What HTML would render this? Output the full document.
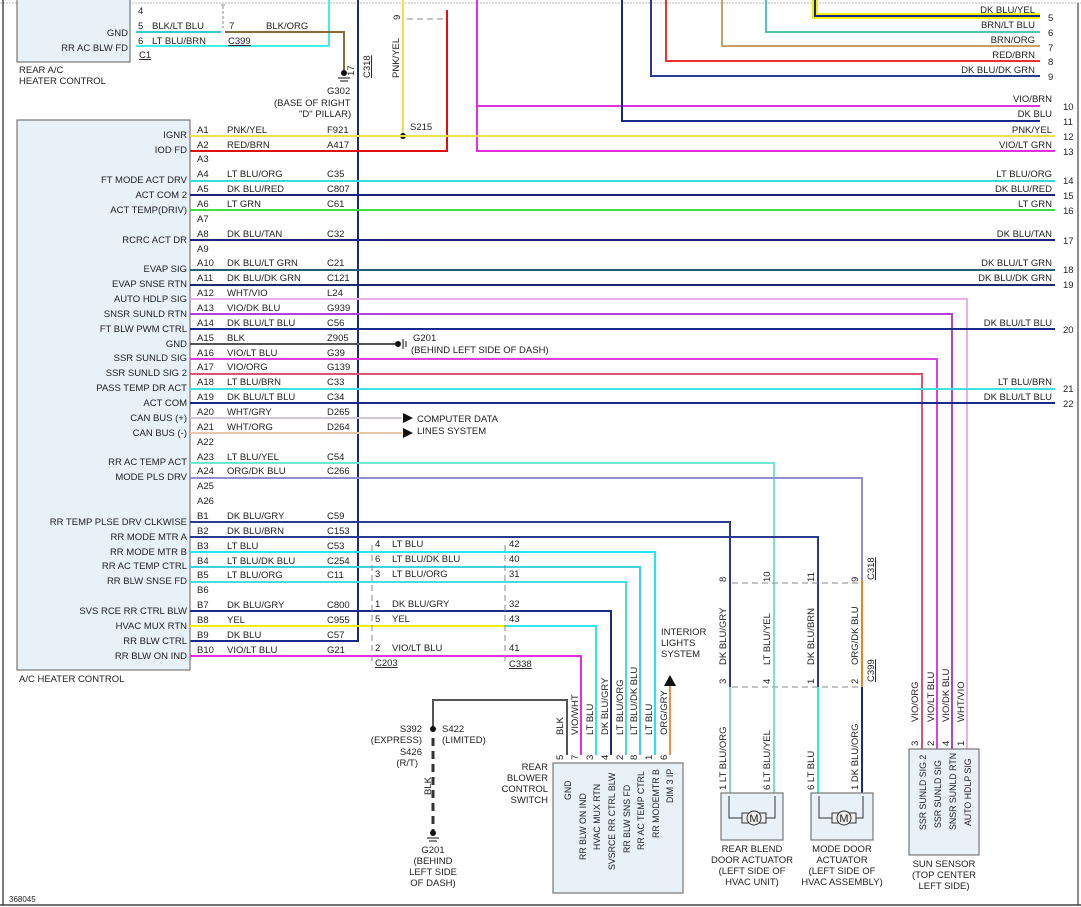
<!DOCTYPE html>
<html><head><meta charset="utf-8"><style>
html,body{margin:0;padding:0;background:#fff}
svg{display:block}
text{font-family:"Liberation Sans",Arial,sans-serif;font-size:9.5px;fill:#222}
.e{text-anchor:end}
.m{text-anchor:middle}
.box{fill:#e8f0f8;stroke:#777;stroke-width:1.2}
.w{fill:none;stroke-width:2}
.s{font-size:8.8px}
</style></head><body>
<svg width="1081" height="907" viewBox="0 0 1081 907" xmlns="http://www.w3.org/2000/svg">
<!-- frame -->
<line x1="0" y1="3" x2="1081" y2="3" stroke="#bbb" stroke-dasharray="2,1"/>
<line x1="3" y1="0" x2="3" y2="905" stroke="#222" stroke-width="1.2"/>
<line x1="0" y1="905" x2="1081" y2="905" stroke="#222" stroke-width="1.2"/>
<line x1="1078" y1="3" x2="1078" y2="905" stroke="#222" stroke-width="1"/>

<!-- rear A/C heater control -->
<rect class="box" x="17" y="-2" width="113" height="64"/>
<text class="e" x="128" y="36">GND</text>
<text class="e" x="128" y="51">RR AC BLW FD</text>
<text x="138" y="14">4</text><text x="138" y="29">5</text><text x="138" y="44">6</text>
<text x="152" y="29">BLK/LT BLU</text><text x="152" y="44">LT BLU/BRN</text>
<text x="139" y="58" text-decoration="underline">C1</text>
<text x="19" y="73">REAR A/C</text><text x="19" y="84">HEATER CONTROL</text>
<path class="w" d="M136 32 H221" stroke="#3cc"/>
<path class="w" d="M136 46 H329 V0" stroke="#4ee"/>
<text x="229" y="29">7</text><text x="266" y="29">BLK/ORG</text>
<text x="228" y="44" text-decoration="underline">C399</text>
<path class="w" d="M225 32 H344 V72" stroke="#8a6a3a"/>
<line x1="221" y1="5" x2="225" y2="5" stroke="#888"/>
<line x1="223" y1="6" x2="223" y2="28" stroke="#888" stroke-dasharray="3,2"/>
<circle cx="344" cy="73" r="3" fill="#111"/>
<line x1="338" y1="78" x2="350" y2="78" stroke="#111"/><line x1="340" y1="81" x2="348" y2="81" stroke="#111"/>
<text x="327" y="94">G302</text>
<text x="274" y="106">(BASE OF RIGHT</text>
<text x="299" y="117">"D" PILLAR)</text>
<!-- C318 vertical -->
<path class="w" d="M358 0 V641 H190" stroke="#1a2a8a"/>
<text x="0" y="0" transform="translate(354,76) rotate(-90)">17</text>
<text x="0" y="0" transform="translate(370,78) rotate(-90)" text-decoration="underline">C318</text>
<!-- PNK/YEL vertical -->
<path class="w" d="M403 0 V136" stroke="#f0e050"/>
<text x="0" y="0" transform="translate(399,78) rotate(-90)">PNK/YEL</text>
<text x="0" y="0" transform="translate(400,20) rotate(-90)">9</text>
<line x1="407" y1="19" x2="445" y2="19" stroke="#888" stroke-dasharray="6,4"/>
<path class="w" d="M447 10 V151 H190" stroke="#e01010"/>
<circle cx="403" cy="136" r="3" fill="#111"/>
<text x="410" y="130">S215</text>
<!-- top right wires -->
<path class="w" d="M477 0 V151 H1055" stroke="#e030e0"/>
<path d="M815 0 V16 H1040" fill="none" stroke="#f5f000" stroke-width="6"/>
<path class="w" d="M815 0 V16 H1040" stroke="#1a2a8a"/>
<path class="w" d="M766 0 V32 H1040" stroke="#4cc8b0"/>
<path class="w" d="M722 0 V46 H1040" stroke="#c8a060"/>
<path class="w" d="M666 0 V61 H1040" stroke="#f03030"/>
<path class="w" d="M651 0 V76 H1040" stroke="#2a3a90"/>
<path class="w" d="M478 106 H1040" stroke="#e030e0"/>
<path class="w" d="M622 0 V121 H1040" stroke="#1a2a8a"/>
<text class="e" x="1035" y="13">DK BLU/YEL</text><text x="1048" y="21">5</text>
<text class="e" x="1035" y="28">BRN/LT BLU</text><text x="1048" y="36">6</text>
<text class="e" x="1035" y="43">BRN/ORG</text><text x="1048" y="51">7</text>
<text class="e" x="1035" y="58">RED/BRN</text><text x="1048" y="65">8</text>
<text class="e" x="1035" y="73">DK BLU/DK GRN</text><text x="1048" y="80">9</text>
<text class="e" x="1052" y="102">VIO/BRN</text><text x="1063" y="110">10</text>
<text class="e" x="1052" y="117">DK BLU</text><text x="1063" y="125">11</text>

<!-- main module -->
<rect class="box" x="17" y="120" width="173" height="550"/>
<text x="19" y="682">A/C HEATER CONTROL</text>
<g>
<text class="e" x="187" y="138">IGNR</text>
<text class="e" x="187" y="153">IOD FD</text>
<text class="e" x="187" y="183">FT MODE ACT DRV</text>
<text class="e" x="187" y="198">ACT COM 2</text>
<text class="e" x="187" y="213">ACT TEMP(DRIV)</text>
<text class="e" x="187" y="243">RCRC ACT DR</text>
<text class="e" x="187" y="272">EVAP SIG</text>
<text class="e" x="187" y="287">EVAP SNSE RTN</text>
<text class="e" x="187" y="302">AUTO HDLP SIG</text>
<text class="e" x="187" y="317">SNSR SUNLD RTN</text>
<text class="e" x="187" y="332">FT BLW PWM CTRL</text>
<text class="e" x="187" y="347">GND</text>
<text class="e" x="187" y="361">SSR SUNLD SIG</text>
<text class="e" x="187" y="376">SSR SUNLD SIG 2</text>
<text class="e" x="187" y="391">PASS TEMP DR ACT</text>
<text class="e" x="187" y="406">ACT COM</text>
<text class="e" x="187" y="421">CAN BUS (+)</text>
<text class="e" x="187" y="436">CAN BUS (-)</text>
<text class="e" x="187" y="465">RR AC TEMP ACT</text>
<text class="e" x="187" y="480">MODE PLS DRV</text>
<text class="e" x="187" y="525">RR TEMP PLSE DRV CLKWISE</text>
<text class="e" x="187" y="540">RR MODE MTR A</text>
<text class="e" x="187" y="555">RR MODE MTR B</text>
<text class="e" x="187" y="569">RR AC TEMP CTRL</text>
<text class="e" x="187" y="584">RR BLW SNSE FD</text>
<text class="e" x="187" y="614">SVS RCE RR CTRL BLW</text>
<text class="e" x="187" y="629">HVAC MUX RTN</text>
<text class="e" x="187" y="644">RR BLW CTRL</text>
<text class="e" x="187" y="659">RR BLW ON IND</text>
</g>
<g>
<text x="197" y="133">A1</text><text x="197" y="148">A2</text><text x="197" y="162">A3</text><text x="197" y="177">A4</text><text x="197" y="192">A5</text><text x="197" y="207">A6</text><text x="197" y="222">A7</text><text x="197" y="237">A8</text><text x="197" y="252">A9</text><text x="197" y="266">A10</text><text x="197" y="281">A11</text><text x="197" y="296">A12</text><text x="197" y="311">A13</text><text x="197" y="326">A14</text><text x="197" y="341">A15</text><text x="197" y="356">A16</text><text x="197" y="370">A17</text><text x="197" y="385">A18</text><text x="197" y="400">A19</text><text x="197" y="415">A20</text><text x="197" y="430">A21</text><text x="197" y="445">A22</text><text x="197" y="460">A23</text><text x="197" y="474">A24</text><text x="197" y="489">A25</text><text x="197" y="504">A26</text><text x="197" y="519">B1</text><text x="197" y="534">B2</text><text x="197" y="549">B3</text><text x="197" y="564">B4</text><text x="197" y="578">B5</text><text x="197" y="593">B6</text><text x="197" y="608">B7</text><text x="197" y="623">B8</text><text x="197" y="638">B9</text><text x="197" y="653">B10</text>
</g>
<g>
<text x="227" y="133">PNK/YEL</text><text x="327" y="133">F921</text>
<text x="227" y="148">RED/BRN</text><text x="327" y="148">A417</text>
<text x="227" y="177">LT BLU/ORG</text><text x="327" y="177">C35</text>
<text x="227" y="192">DK BLU/RED</text><text x="327" y="192">C807</text>
<text x="227" y="207">LT GRN</text><text x="327" y="207">C61</text>
<text x="227" y="237">DK BLU/TAN</text><text x="327" y="237">C32</text>
<text x="227" y="266">DK BLU/LT GRN</text><text x="327" y="266">C21</text>
<text x="227" y="281">DK BLU/DK GRN</text><text x="327" y="281">C121</text>
<text x="227" y="296">WHT/VIO</text><text x="327" y="296">L24</text>
<text x="227" y="311">VIO/DK BLU</text><text x="327" y="311">G939</text>
<text x="227" y="326">DK BLU/LT BLU</text><text x="327" y="326">C56</text>
<text x="227" y="341">BLK</text><text x="327" y="341">Z905</text>
<text x="227" y="356">VIO/LT BLU</text><text x="327" y="356">G39</text>
<text x="227" y="370">VIO/ORG</text><text x="327" y="370">G139</text>
<text x="227" y="385">LT BLU/BRN</text><text x="327" y="385">C33</text>
<text x="227" y="400">DK BLU/LT BLU</text><text x="327" y="400">C34</text>
<text x="227" y="415">WHT/GRY</text><text x="327" y="415">D265</text>
<text x="227" y="430">WHT/ORG</text><text x="327" y="430">D264</text>
<text x="227" y="460">LT BLU/YEL</text><text x="327" y="460">C54</text>
<text x="227" y="474">ORG/DK BLU</text><text x="327" y="474">C266</text>
<text x="227" y="519">DK BLU/GRY</text><text x="327" y="519">C59</text>
<text x="227" y="534">DK BLU/BRN</text><text x="327" y="534">C153</text>
<text x="227" y="549">LT BLU</text><text x="327" y="549">C53</text>
<text x="227" y="564">LT BLU/DK BLU</text><text x="327" y="564">C254</text>
<text x="227" y="578">LT BLU/ORG</text><text x="327" y="578">C11</text>
<text x="227" y="608">DK BLU/GRY</text><text x="327" y="608">C800</text>
<text x="227" y="623">YEL</text><text x="327" y="623">C955</text>
<text x="227" y="638">DK BLU</text><text x="327" y="638">C57</text>
<text x="227" y="653">VIO/LT BLU</text><text x="327" y="653">G21</text>
</g>
<!-- main wires -->
<path class="w" d="M190 136 H1055" stroke="#f0e050"/>
<path class="w" d="M190 181 H1055" stroke="#30dcdc"/>
<path class="w" d="M190 195 H1055" stroke="#1a237e"/>
<path class="w" d="M190 210 H1055" stroke="#40e040"/>
<path class="w" d="M190 240 H1055" stroke="#1a237e"/>
<path class="w" d="M190 270 H1055" stroke="#206070"/>
<path class="w" d="M190 285 H1055" stroke="#1a2a70"/>
<path class="w" d="M190 299 H967 V749" stroke="#e8b0e8"/>
<path class="w" d="M190 314 H952 V749" stroke="#b040e0"/>
<path class="w" d="M190 329 H1055" stroke="#1a2a8a"/>
<path class="w" d="M190 344 H396" stroke="#555"/>
<path class="w" d="M190 359 H937 V749" stroke="#e040e0"/>
<path class="w" d="M190 374 H922 V749" stroke="#e05070"/>
<path class="w" d="M190 389 H1055" stroke="#40e0e0"/>
<path class="w" d="M190 403 H1055" stroke="#1a2a8a"/>
<path class="w" d="M190 418 H402" stroke="#d0c8d8"/>
<path class="w" d="M190 433 H402" stroke="#e8c8a8"/>
<path class="w" d="M190 463 H774 V783" stroke="#70e8d0"/>
<path class="w" d="M190 478 H862 V687" stroke="#9090d0"/>
<path class="w" d="M862 580 V687" stroke="#f08020"/>
<path class="w" d="M190 522 H730 V687" stroke="#2a3a90"/>
<path class="w" d="M190 537 H818 V687" stroke="#2a3a90"/>
<path class="w" d="M190 552 H655 V755" stroke="#20e8f0"/>
<path class="w" d="M190 567 H640 V755" stroke="#40d0e0"/>
<path class="w" d="M190 582 H626 V755" stroke="#40e0e0"/>
<path class="w" d="M190 611 H611 V755" stroke="#1a2a8a"/>
<path class="w" d="M190 626 H505" stroke="#f0f000"/>
<path class="w" d="M505 626 H596 V755" stroke="#30e8f0"/>
<path class="w" d="M190 656 H581 V755" stroke="#e030e0"/>
<!-- right labels -->
<text class="e" x="1052" y="133">PNK/YEL</text><text x="1063" y="140">12</text>
<text class="e" x="1052" y="148">VIO/LT GRN</text><text x="1063" y="155">13</text>
<text class="e" x="1052" y="177">LT BLU/ORG</text><text x="1063" y="184">14</text>
<text class="e" x="1052" y="192">DK BLU/RED</text><text x="1063" y="199">15</text>
<text class="e" x="1052" y="207">LT GRN</text><text x="1063" y="214">16</text>
<text class="e" x="1052" y="237">DK BLU/TAN</text><text x="1063" y="244">17</text>
<text class="e" x="1052" y="266">DK BLU/LT GRN</text><text x="1063" y="273">18</text>
<text class="e" x="1052" y="281">DK BLU/DK GRN</text><text x="1063" y="288">19</text>
<text class="e" x="1052" y="326">DK BLU/LT BLU</text><text x="1063" y="333">20</text>
<text class="e" x="1052" y="385">LT BLU/BRN</text><text x="1063" y="392">21</text>
<text class="e" x="1052" y="400">DK BLU/LT BLU</text><text x="1063" y="407">22</text>
<!-- G201 & data lines -->
<circle cx="398" cy="344" r="3" fill="#111"/>
<line x1="403" y1="339" x2="403" y2="349" stroke="#111"/><line x1="406" y1="341" x2="406" y2="347" stroke="#111"/>
<text x="413" y="341">G201</text>
<text x="411" y="353">(BEHIND LEFT SIDE OF DASH)</text>
<path d="M403 413 L413 418 L403 423 Z" fill="#111"/>
<path d="M403 428 L413 433 L403 438 Z" fill="#111"/>
<text x="417" y="422">COMPUTER DATA</text>
<text x="417" y="434">LINES SYSTEM</text>
<!-- C203 / C338 -->
<g>
<text x="375" y="547">4</text><text x="392" y="547">LT BLU</text><text x="509" y="547">42</text>
<text x="375" y="562">6</text><text x="392" y="562">LT BLU/DK BLU</text><text x="509" y="562">40</text>
<text x="375" y="577">3</text><text x="392" y="577">LT BLU/ORG</text><text x="509" y="577">31</text>
<text x="375" y="607">1</text><text x="392" y="607">DK BLU/GRY</text><text x="509" y="607">32</text>
<text x="375" y="622">5</text><text x="392" y="622">YEL</text><text x="509" y="622">43</text>
<text x="375" y="651">2</text><text x="392" y="651">VIO/LT BLU</text><text x="509" y="651">41</text>
<text x="375" y="666" text-decoration="underline">C203</text>
<text x="509" y="667" text-decoration="underline">C338</text>
</g>
<line x1="372" y1="545" x2="372" y2="664" stroke="#888" stroke-dasharray="6,4"/>
<line x1="505" y1="545" x2="505" y2="664" stroke="#888" stroke-dasharray="6,4"/>
<!-- interior lights -->
<path class="w" d="M670 755 V685" stroke="#f09040"/>
<path d="M664 686 L670 675 L676 686 Z" fill="#111"/>
<text x="661" y="635">INTERIOR</text><text x="661" y="646">LIGHTS</text><text x="661" y="657">SYSTEM</text>
<!-- blower switch -->
<path class="w" d="M567 755 V700 H433 V730" stroke="#555"/>
<line x1="433" y1="738" x2="433" y2="832" stroke="#333" stroke-width="3" stroke-dasharray="8,5"/>
<circle cx="433" cy="729" r="3" fill="#111"/>
<text x="442" y="732">S422</text><text x="442" y="743">(LIMITED)</text>
<text class="e" x="422" y="732">S392</text><text class="e" x="422" y="743">(EXPRESS)</text>
<text class="e" x="422" y="755">S426</text><text class="e" x="418" y="766">(R/T)</text>
<text x="0" y="0" transform="translate(431,795) rotate(-90)">BLK</text>
<circle cx="433" cy="833" r="3" fill="#111"/>
<line x1="427" y1="838" x2="439" y2="838" stroke="#111"/><line x1="429" y1="841" x2="437" y2="841" stroke="#111"/>
<text class="m" x="433" y="853">G201</text><text class="m" x="433" y="864">(BEHIND</text><text class="m" x="433" y="875">LEFT SIDE</text><text class="m" x="433" y="886">OF DASH)</text>
<rect class="box" x="553" y="763" width="130" height="130"/>
<text class="e" x="548" y="770">REAR</text><text class="e" x="548" y="781">BLOWER</text><text class="e" x="548" y="792">CONTROL</text><text class="e" x="548" y="803">SWITCH</text>
<g>
<text transform="translate(563,760) rotate(-90)">5</text><text transform="translate(563,735) rotate(-90)">BLK</text>
<text transform="translate(578,760) rotate(-90)">7</text><text transform="translate(578,735) rotate(-90)">VIO/WHT</text>
<text transform="translate(593,760) rotate(-90)">3</text><text transform="translate(593,735) rotate(-90)">LT BLU</text>
<text transform="translate(608,760) rotate(-90)">4</text><text transform="translate(608,735) rotate(-90)">DK BLU/GRY</text>
<text transform="translate(623,760) rotate(-90)">2</text><text transform="translate(623,735) rotate(-90)">LT BLU/ORG</text>
<text transform="translate(637,760) rotate(-90)">8</text><text transform="translate(637,735) rotate(-90)">LT BLU/DK BLU</text>
<text transform="translate(652,760) rotate(-90)">1</text><text transform="translate(652,735) rotate(-90)">LT BLU</text>
<text transform="translate(667,760) rotate(-90)">6</text><text transform="translate(667,735) rotate(-90)">ORG/GRY</text>
<g class="s">
<text class="s" transform="translate(571,800) rotate(-90)">GND</text>
<text class="s" transform="translate(586,860) rotate(-90)">RR BLW ON IND</text>
<text class="s" transform="translate(600,850) rotate(-90)">HVAC MUX RTN</text>
<text class="s" transform="translate(615,870) rotate(-90)">SVSRCE RR CTRL BLW</text>
<text class="s" transform="translate(630,853) rotate(-90)">RR BLW SNS FD</text>
<text class="s" transform="translate(644,850) rotate(-90)">RR AC TEMP CTRL</text>
<text class="s" transform="translate(659,838) rotate(-90)">RR MODEMTR B</text>
<text class="s" transform="translate(673,803) rotate(-90)">DIM 3 IP</text>
</g>
</g>
<!-- actuator connectors -->
<line x1="732" y1="583" x2="860" y2="583" stroke="#888" stroke-dasharray="6,4"/>
<line x1="732" y1="687" x2="860" y2="687" stroke="#888" stroke-dasharray="6,4"/>
<path class="w" d="M730 687 V793" stroke="#80d8c0"/>
<path class="w" d="M774 687 V793" stroke="#70e8c0"/>
<path class="w" d="M818 687 V793" stroke="#30e8f0"/>
<path class="w" d="M862 687 V793" stroke="#1a2a8a"/>
<g>
<text transform="translate(726,582) rotate(-90)">8</text><text transform="translate(770,582) rotate(-90)">10</text><text transform="translate(814,582) rotate(-90)">11</text><text transform="translate(858,582) rotate(-90)">9</text>
<text transform="translate(874,580) rotate(-90)" text-decoration="underline">C318</text>
<text transform="translate(726,665) rotate(-90)">DK BLU/GRY</text><text transform="translate(770,665) rotate(-90)">LT BLU/YEL</text>
<text transform="translate(814,665) rotate(-90)">DK BLU/BRN</text><text transform="translate(858,665) rotate(-90)">ORG/DK BLU</text>
<text transform="translate(726,684) rotate(-90)">3</text><text transform="translate(770,684) rotate(-90)">4</text><text transform="translate(814,684) rotate(-90)">1</text><text transform="translate(858,684) rotate(-90)">2</text>
<text transform="translate(874,682) rotate(-90)" text-decoration="underline">C399</text>
<text transform="translate(726,790) rotate(-90)">1  LT BLU/ORG</text><text transform="translate(770,790) rotate(-90)">6  LT BLU/YEL</text>
<text transform="translate(814,790) rotate(-90)">6  LT BLU</text><text transform="translate(858,790) rotate(-90)">1  DK BLU/ORG</text>
</g>
<rect class="box" x="721" y="793" width="62" height="47"/>
<rect class="box" x="811" y="793" width="62" height="47"/>
<path d="M729 796 V818 H742 M766 818 H775 V796" fill="none" stroke="#333"/>
<rect x="742" y="813" width="24" height="10" fill="#eee" stroke="#333"/><circle cx="754" cy="818" r="7" fill="#eee" stroke="#333"/><text class="m" x="754" y="822" style="font-size:11px">M</text>
<path d="M819 796 V818 H832 M856 818 H863 V796" fill="none" stroke="#333"/>
<rect x="832" y="813" width="24" height="10" fill="#eee" stroke="#333"/><circle cx="844" cy="818" r="7" fill="#eee" stroke="#333"/><text class="m" x="844" y="822" style="font-size:11px">M</text>
<text class="m" x="752" y="852">REAR BLEND</text><text class="m" x="752" y="863">DOOR ACTUATOR</text><text class="m" x="752" y="874">(LEFT SIDE OF</text><text class="m" x="752" y="885">HVAC UNIT)</text>
<text class="m" x="842" y="852">MODE DOOR</text><text class="m" x="842" y="863">ACTUATOR</text><text class="m" x="842" y="874">(LEFT SIDE OF</text><text class="m" x="842" y="885">HVAC ASSEMBLY)</text>
<!-- sun sensor -->
<rect class="box" x="909" y="749" width="70" height="106"/>
<g>
<text transform="translate(918,722) rotate(-90)">VIO/ORG</text><text transform="translate(934,722) rotate(-90)">VIO/LT BLU</text>
<text transform="translate(949,722) rotate(-90)">VIO/DK BLU</text><text transform="translate(964,722) rotate(-90)">WHT/VIO</text>
<text transform="translate(918,746) rotate(-90)">3</text><text transform="translate(934,746) rotate(-90)">2</text><text transform="translate(949,746) rotate(-90)">4</text><text transform="translate(964,746) rotate(-90)">1</text>
<text class="s" transform="translate(926,830) rotate(-90)">SSR SUNLD SIG 2</text>
<text class="s" transform="translate(941,828) rotate(-90)">SSR SUNLD SIG</text>
<text class="s" transform="translate(956,830) rotate(-90)">SNSR SUNLD RTN</text>
<text class="s" transform="translate(971,826) rotate(-90)">AUTO HDLP SIG</text>
</g>
<text class="m" x="944" y="867">SUN SENSOR</text><text class="m" x="944" y="878">(TOP CENTER</text><text class="m" x="944" y="889">LEFT SIDE)</text>
<text x="9" y="902" style="font-size:8px">368045</text>
</svg>
</body></html>
